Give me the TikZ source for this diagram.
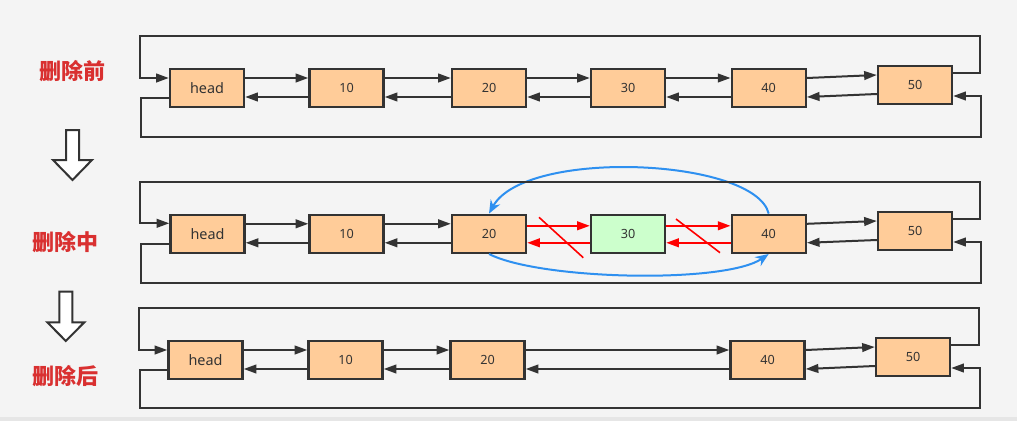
\documentclass[tikz,border=0pt]{standalone}
\usepackage{fontspec}
\setmainfont{Noto Sans}
\newfontfamily\cjk{Noto Sans CJK SC}
\usetikzlibrary{arrows.meta,calc}
\definecolor{linec}{HTML}{333333}
\definecolor{nodefill}{HTML}{FFCC99}
\definecolor{greenfill}{HTML}{CCFFCC}
\definecolor{bgc}{HTML}{F4F4F4}
\definecolor{stripc}{HTML}{E6E6E6}
\definecolor{bluec}{HTML}{2E90F0}
\definecolor{labelc}{HTML}{D93030}
\definecolor{textc}{HTML}{333333}
\tikzset{
  box/.style={draw=linec, line width=1.8pt, fill=nodefill, minimum width=55.5pt, minimum height=28.5pt, inner sep=0pt, text=textc, font=\fontsize{9.5}{11}\selectfont},
  headbox/.style={box, font=\fontsize{10.8}{12}\selectfont},
  delbox/.style={box, fill=greenfill},
  conn/.style={draw=linec, line width=1.5pt},
  arr/.style={conn, -{Triangle[length=9.5pt,width=6.5pt]}},
  redarr/.style={draw=red, line width=1.5pt, -{Triangle[length=9.5pt,width=6.5pt]}},
  bluearr/.style={draw=bluec, line width=1.5pt, -{Stealth[length=10pt,width=8pt]}},
  cross/.style={draw=red, line width=1.2pt},
  steplabel/.style={text=labelc, font=\cjk\bfseries\fontsize{16.5}{18}\selectfont},
  downarr/.style={draw=linec, fill=white, line width=1.5pt, line join=miter}
}
\begin{document}
\begin{tikzpicture}[x=0.75pt,y=-0.75pt]
\useasboundingbox (0,0) rectangle (1017,421);
\fill[bgc] (0,0) rectangle (1017,421);
\fill[stripc] (0,417) rectangle (1017,421);

% labels
\node[steplabel] (l1) at (72,70.7) {删除前};
\node[steplabel] (l2) at (65,241.7) {删除中};
\node[steplabel] (l3) at (65,376) {删除后};

% down arrows
\draw[downarr] (66,130) -- (79,130) -- (79,160) -- (92,160) -- (72.5,180) -- (53,160) -- (66,160) -- cycle;
\draw[downarr] (59.3,291.7) -- (72.3,291.7) -- (72.3,322.3) -- (84.3,322.3) -- (65.8,341) -- (47.3,322.3) -- (59.3,322.3) -- cycle;

% ---------- row 1 ----------
\node[headbox] (h1) at (207,88) {head};
\node[box] (a1) at (346.5,88) {10};
\node[box] (b1) at (489,88) {20};
\node[box] (c1) at (628,88) {30};
\node[box] (d1) at (768.7,88) {40};
\node[box] (e1) at (915,85) {50};
\foreach \p/\q in {h1/a1,a1/b1,b1/c1,c1/d1,d1/e1}{
  \draw[arr] ($(\p.east)+(0,-10)$) -- ($(\q.west)+(0,-10)$);
  \draw[arr] ($(\q.west)+(0,9)$) -- ($(\p.east)+(0,9)$);
}
\coordinate (t1r) at (980,36); \coordinate (t1l) at (140,36);
\draw[arr] ($(e1.east)+(0,-12)$) -| (t1r) -- (t1l) |- ($(h1.west)+(0,-10)$);
\coordinate (b1l) at (141,136.7); \coordinate (b1r) at (980.7,136.7);
\draw[arr] ($(h1.west)+(0,10)$) -| (b1l) -- (b1r) |- ($(e1.east)+(0,11)$);

% ---------- row 2 ----------
\node[headbox] (h2) at (207.5,233.8) {head};
\node[box] (a2) at (346.5,233.8) {10};
\node[box] (b2) at (489,233.8) {20};
\node[delbox] (c2) at (628,233.8) {30};
\node[box] (d2) at (768.7,233.8) {40};
\node[box] (e2) at (915,231) {50};
\foreach \p/\q in {h2/a2,a2/b2,d2/e2}{
  \draw[arr] ($(\p.east)+(0,-10)$) -- ($(\q.west)+(0,-10)$);
  \draw[arr] ($(\q.west)+(0,9)$) -- ($(\p.east)+(0,9)$);
}
\foreach \p/\q in {b2/c2,c2/d2}{
  \draw[redarr] ($(\p.east)+(0,-8)$) -- ($(\q.west)+(0,-8)$);
  \draw[redarr] ($(\q.west)+(0,9)$) -- ($(\p.east)+(0,9)$);
}
\draw[cross] (539,217.3) -- (583.3,257.7);
\draw[cross] (676,219) -- (720,252.7);
\draw[bluearr] (d2.north) .. controls (755,158) and (525,148) .. (b2.north);
\draw[bluearr] (b2.south) .. controls (540,280) and (725,284) .. (d2.south);
\coordinate (t2r) at (980,182.3); \coordinate (t2l) at (140,182.3);
\draw[arr] ($(e2.east)+(0,-12)$) -| (t2r) -- (t2l) |- ($(h2.west)+(0,-10.5)$);
\coordinate (b2l) at (141,282.7); \coordinate (b2r) at (980.7,282.7);
\draw[arr] ($(h2.west)+(0,10.5)$) -| (b2l) -- (b2r) |- ($(e2.east)+(0,11)$);

% ---------- row 3 ----------
\node[headbox] (h3) at (205.5,360) {head};
\node[box] (a3) at (345.5,360) {10};
\node[box] (b3) at (487.5,360) {20};
\node[box] (d3) at (767.5,360) {40};
\node[box] (e3) at (913,357) {50};
\foreach \p/\q in {h3/a3,a3/b3,b3/d3,d3/e3}{
  \draw[arr] ($(\p.east)+(0,-10)$) -- ($(\q.west)+(0,-10)$);
  \draw[arr] ($(\q.west)+(0,9)$) -- ($(\p.east)+(0,9)$);
}
\coordinate (t3r) at (979,308.3); \coordinate (t3l) at (139,308.3);
\draw[arr] ($(e3.east)+(0,-12)$) -| (t3r) -- (t3l) |- ($(h3.west)+(0,-10)$);
\coordinate (b3l) at (139.5,408.3); \coordinate (b3r) at (979.5,408.3);
\draw[arr] ($(h3.west)+(0,10)$) -| (b3l) -- (b3r) |- ($(e3.east)+(0,11)$);
\end{tikzpicture}
\end{document}
